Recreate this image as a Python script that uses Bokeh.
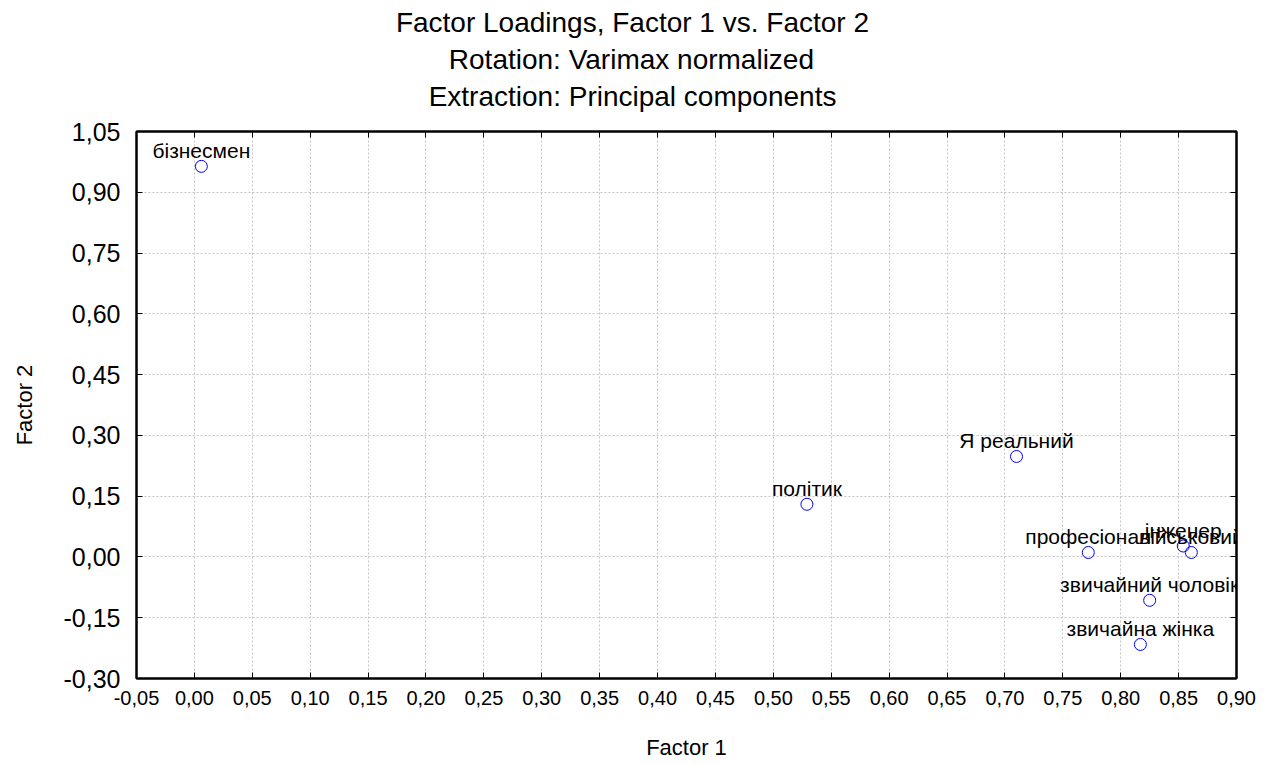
from bokeh.plotting import figure
from bokeh.models import (ColumnDataSource, Range1d, FixedTicker, CustomJSTickFormatter,
                          LinearAxis, Title)
from bokeh.embed import file_html
from bokeh.resources import INLINE

# ---- data ----
names = ["бізнесмен", "політик", "Я реальний", "професіонал", "інженер",
         "військовий", "звичайний чоловік", "звичайна жінка"]
factor1 = [0.006, 0.529, 0.710, 0.772, 0.854, 0.861, 0.825, 0.817]
factor2 = [0.964, 0.130, 0.248, 0.011, 0.027, 0.011, -0.107, -0.216]

x_ticks = [-0.05, 0.0, 0.05, 0.10, 0.15, 0.20, 0.25, 0.30, 0.35, 0.40, 0.45,
           0.50, 0.55, 0.60, 0.65, 0.70, 0.75, 0.80, 0.85, 0.90]
y_ticks = [-0.30, -0.15, 0.0, 0.15, 0.30, 0.45, 0.60, 0.75, 0.90, 1.05]

title_lines = ["Factor Loadings, Factor 1 vs. Factor 2",
               "Rotation: Varimax normalized",
               "Extraction: Principal components"]
x_label = "Factor 1"
y_label = "Factor 2"

FONT = "Liberation Sans"
TITLE_SIZE = 28
# approximate Arial advance widths (em) to centre each title line on the page
title_em = [16.90, 13.12, 14.56]

src = ColumnDataSource(dict(x=factor1, y=factor2, name=names))

W, H = 1264, 762
LEFT, TOP = 136, 131
FRAME_W, FRAME_H = 1100, 547
p = figure(width=W, height=H, output_backend="svg", toolbar_location=None,
           x_range=Range1d(x_ticks[0], x_ticks[-1]),
           y_range=Range1d(y_ticks[0], y_ticks[-1]),
           min_border_left=LEFT, min_border_right=W - LEFT - FRAME_W,
           min_border_top=TOP, min_border_bottom=H - TOP - FRAME_H,
           x_axis_label=x_label, y_axis_label=y_label)
p.title.visible = False
p.background_fill_color = "white"
p.border_fill_color = "white"
p.outline_line_color = "black"
p.outline_line_width = 2

fmt = CustomJSTickFormatter(code="return tick.toFixed(2).replace('.', ',');")

for ax in p.xaxis:
    ax.ticker = FixedTicker(ticks=x_ticks)
    ax.formatter = fmt
    ax.major_label_text_font = FONT
    ax.major_label_text_font_size = "20px"
    ax.major_label_text_color = "black"
    ax.major_label_standoff = 12
    ax.axis_label_text_font = FONT
    ax.axis_label_text_font_size = "22px"
    ax.axis_label_text_font_style = "normal"
    ax.axis_label_text_color = "black"
    ax.axis_label_standoff = 27
    ax.axis_line_width = 2
    ax.axis_line_color = "black"
    ax.major_tick_in = 6
    ax.major_tick_out = 0
    ax.major_tick_line_width = 1
    ax.minor_tick_line_color = None

for ax in p.yaxis:
    ax.ticker = FixedTicker(ticks=y_ticks)
    ax.formatter = fmt
    ax.major_label_text_font = FONT
    ax.major_label_text_font_size = "25px"
    ax.major_label_text_color = "black"
    ax.major_label_standoff = 16
    ax.axis_label_text_font = FONT
    ax.axis_label_text_font_size = "22px"
    ax.axis_label_text_font_style = "normal"
    ax.axis_label_text_color = "black"
    ax.axis_label_standoff = 24
    ax.axis_line_width = 2
    ax.axis_line_color = "black"
    ax.major_tick_in = 6
    ax.major_tick_out = 0
    ax.major_tick_line_width = 1
    ax.minor_tick_line_color = None

# mirror axes (ticks only, labels not drawn)
top = LinearAxis(ticker=FixedTicker(ticks=x_ticks), formatter=fmt,
                 major_label_text_font_size="12px", major_label_text_color=None,
                 major_tick_in=6, major_tick_out=0, major_label_standoff=0,
                 minor_tick_line_color=None, axis_line_width=2)
right = LinearAxis(ticker=FixedTicker(ticks=y_ticks), formatter=fmt,
                   major_label_text_font_size="8px", major_label_text_color=None,
                   major_tick_in=6, major_tick_out=0, major_label_standoff=0,
                   minor_tick_line_color=None, axis_line_width=2)
p.add_layout(top, "above")
p.add_layout(right, "right")

# invisible spacer axis: leaves the gap between the titles and the frame
spacer = LinearAxis(ticker=FixedTicker(ticks=x_ticks), formatter=fmt,
                    major_label_text_font_size="12px", major_label_text_color=None,
                    major_tick_in=0, major_tick_out=18, major_tick_line_color=None,
                    major_label_standoff=0, minor_tick_line_color=None,
                    axis_line_color=None)
p.add_layout(spacer, "above")

p.xgrid.ticker = FixedTicker(ticks=x_ticks)
p.ygrid.ticker = FixedTicker(ticks=y_ticks)
for g in (p.xgrid[0], p.ygrid[0]):
    g.grid_line_color = "#c4c4c4"
    g.grid_line_dash = "2 2"
    g.grid_line_width = 1

p.scatter("x", "y", source=src, size=12, marker="circle",
          fill_color=None, line_color="#0000ff", line_width=1)

p.text("x", "y", text="name", source=src, text_align="center",
       text_baseline="alphabetic", y_offset=-16,
       text_font={"value": FONT}, text_font_size="21px", text_color="black")

# titles: stacked above the frame, centred on the page (x = 632)
centre = 632 - LEFT
for line, em in reversed(list(zip(title_lines, title_em))):
    w = em * TITLE_SIZE
    p.add_layout(Title(text=line, align="left", offset=centre - w / 2,
                       text_font=FONT, text_font_size=f"{TITLE_SIZE}px",
                       text_font_style="normal", text_color="black",
                       standoff=4), "above")

open("out.html", "w").write(file_html(p, INLINE))
